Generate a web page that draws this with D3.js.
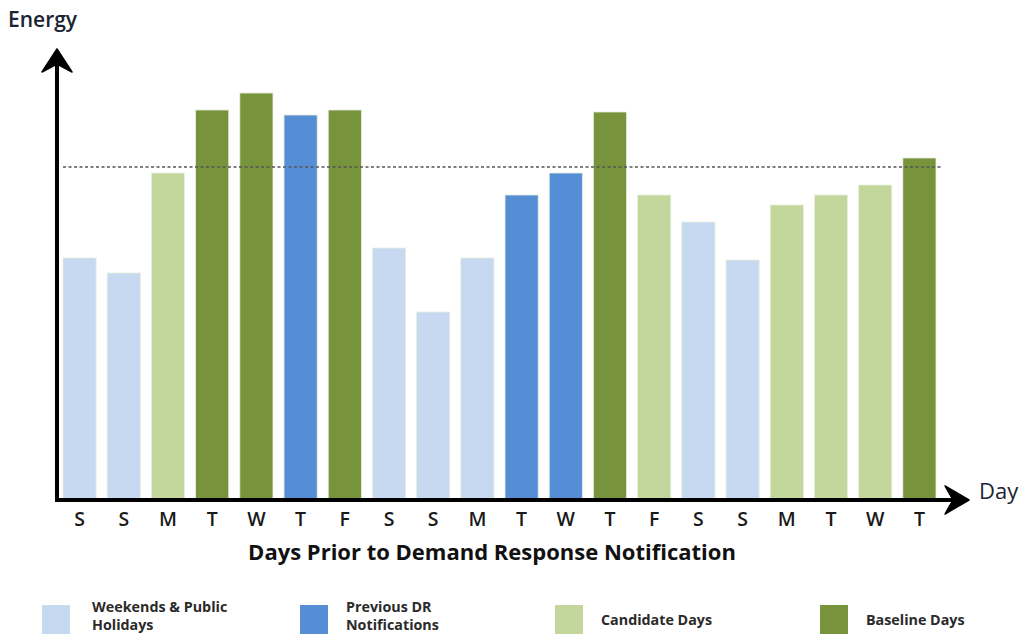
<!DOCTYPE html>
<html>
<head>
<meta charset="utf-8">
<script src="https://cdn.jsdelivr.net/npm/d3@7"></script>
<style>
  body { margin: 0; background: #fff; }
  svg { display: block; font-family: "Open Sans", "Liberation Sans", sans-serif; }
</style>
</head>
<body>
<svg id="chart" width="1022" height="634"></svg>
<script>
// Day letters along the x axis
const days = ["S", "S", "M", "T", "W", "T", "F", "S", "S", "M", "T", "W", "T", "F", "S", "S", "M", "T", "W", "T"];
// Energy (arbitrary units)
const energy = [242, 227, 327, 390, 407, 385, 390, 252, 188, 242, 305, 327, 388, 305, 278, 240, 295, 305, 315, 342];
// Category of each day
const kinds = ["wk", "wk", "cand", "base", "base", "dr", "base", "wk", "wk", "wk", "dr", "dr", "base", "cand", "wk", "wk", "cand", "cand", "cand", "base"];
const threshold = 333;

const categories = ["wk", "dr", "cand", "base"];
const categoryLabels = [["Weekends & Public", "Holidays"], ["Previous DR", "Notifications"], ["Candidate Days"], ["Baseline Days"]];
const categoryColors = ["#c6d9f0", "#558ed5", "#c3d69b", "#77933c"];

const svg = d3.select("#chart");
const color = d3.scaleOrdinal().domain(categories).range(categoryColors);

const originX = 57, originY = 500;

const x = d3.scaleBand()
  .domain(d3.range(days.length))
  .range([originX, 942])
  .paddingInner(0.25)
  .paddingOuter(0.136);

const y = d3.scaleLinear()
  .domain([0, 450])
  .range([originY, 50]);

// Bars
svg.append("g")
  .selectAll("rect")
  .data(energy)
  .join("rect")
  .attr("x", (d, i) => x(i))
  .attr("y", d => y(d))
  .attr("width", x.bandwidth())
  .attr("height", d => y(0) - y(d))
  .attr("fill", (d, i) => color(kinds[i]))
  .attr("stroke", "#e8eedd")
  .attr("stroke-width", 0.8);

// Threshold line
svg.append("line")
  .attr("x1", x(0))
  .attr("x2", x(days.length - 1) + x.bandwidth() + 6)
  .attr("y1", y(threshold))
  .attr("y2", y(threshold))
  .attr("stroke", "#555")
  .attr("stroke-width", 1.6)
  .attr("stroke-dasharray", "3,2.5");

// Axes with arrows
svg.append("line")
  .attr("x1", originX).attr("y1", originY + 2)
  .attr("x2", originX).attr("y2", 62)
  .attr("stroke", "#000").attr("stroke-width", 4);

svg.append("path")
  .attr("d", `M${originX},49 L${originX + 15},72 L${originX},64 L${originX - 15},72 Z`)
  .attr("fill", "#000").attr("stroke", "#000").attr("stroke-width", 1.5).attr("stroke-linejoin", "round");

svg.append("line")
  .attr("x1", originX - 2).attr("y1", originY)
  .attr("x2", 958).attr("y2", originY)
  .attr("stroke", "#000").attr("stroke-width", 4);

svg.append("path")
  .attr("d", `M969,${originY} L945,${originY - 14} L953,${originY} L945,${originY + 14} Z`)
  .attr("fill", "#000").attr("stroke", "#000").attr("stroke-width", 1.5).attr("stroke-linejoin", "round");

// Day letters
svg.append("g")
  .selectAll("text")
  .data(days)
  .join("text")
  .attr("x", (d, i) => x(i) + x.bandwidth() / 2)
  .attr("y", 526)
  .attr("text-anchor", "middle")
  .attr("font-size", 19.5)
  .attr("font-weight", 600)
  .attr("fill", "#1a1a1a")
  .text(d => d);

// Axis labels
svg.append("text")
  .attr("x", 8).attr("y", 27)
  .attr("font-size", 21).attr("font-weight", 600).attr("fill", "#1b2433")
  .text("Energy");

svg.append("text")
  .attr("x", 979).attr("y", 499)
  .attr("font-size", 22).attr("fill", "#1b2433")
  .text("Day");

svg.append("text")
  .attr("x", 492).attr("y", 560)
  .attr("text-anchor", "middle")
  .attr("font-size", 22).attr("font-weight", 700).attr("fill", "#111")
  .text("Days Prior to Demand Response Notification");

// Legend
const legendX = [42, 300, 555, 820];
const legend = svg.append("g")
  .selectAll("g")
  .data(categories)
  .join("g")
  .attr("transform", (d, i) => `translate(${legendX[i]},605)`);

legend.append("rect")
  .attr("width", 28).attr("height", 30)
  .attr("fill", d => color(d));

legend.append("text")
  .attr("x", (d, i) => i === 0 ? 50 : 46)
  .attr("font-size", 14.3).attr("font-weight", 700).attr("fill", "#2a2a2a")
  .selectAll("tspan")
  .data((d, i) => categoryLabels[i].map(t => ({ t, n: categoryLabels[i].length })))
  .join("tspan")
  .attr("x", function () { return this.parentNode.getAttribute("x"); })
  .attr("y", (d, j) => d.n === 1 ? 20 : (j === 0 ? 7 : 25))
  .text(d => d.t);
</script>
</body>
</html>
